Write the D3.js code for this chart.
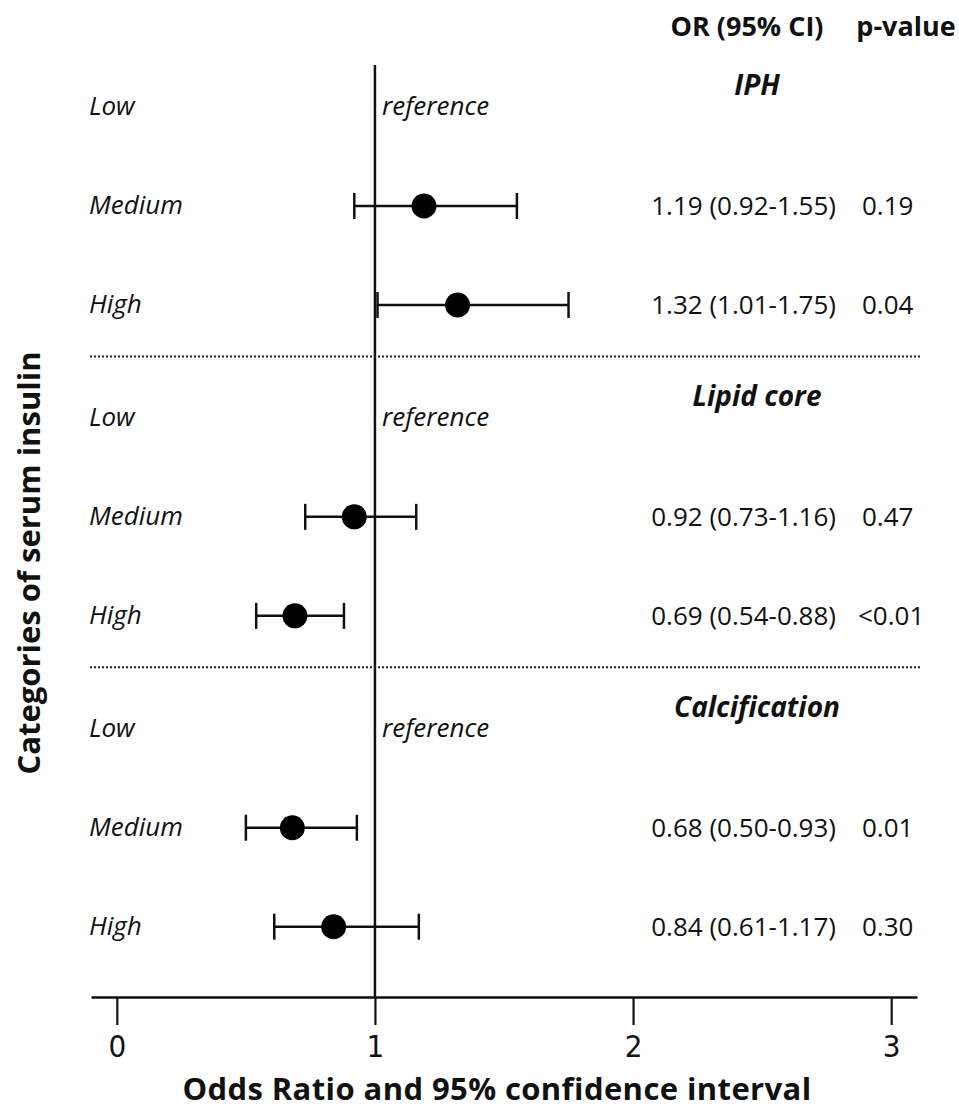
<!DOCTYPE html>
<html>
<head>
<meta charset="utf-8">
<script src="https://cdn.jsdelivr.net/npm/d3@7"></script>
<style>
  body { margin: 0; background: #fff; }
  text { fill: #111; }
</style>
</head>
<body>
<div id="container"></div>
<script>
let width = 959;
let height = 1108;

// data
let sections = ["IPH", "Lipid core", "Calcification"];
let levels = ["Low", "Medium", "High"];
let orValues = [
    [null, 1.19, 1.32],
    [null, 0.92, 0.69],
    [null, 0.68, 0.84]
];
let ciLow = [
    [null, 0.92, 1.01],
    [null, 0.73, 0.54],
    [null, 0.50, 0.61]
];
let ciHigh = [
    [null, 1.55, 1.75],
    [null, 1.16, 0.88],
    [null, 0.93, 1.17]
];
let pValues = [
    [null, "0.19", "0.04"],
    [null, "0.47", "<0.01"],
    [null, "0.01", "0.30"]
];
let xTicks = [0, 1, 2, 3];

let rows = [];
sections.forEach((s, si) => {
    levels.forEach((l, li) => {
        rows.push({
            section: si, level: l, slot: si * 3.14 + li,
            or: orValues[si][li], lo: ciLow[si][li], hi: ciHigh[si][li], p: pValues[si][li]
        });
    });
});

let svg = d3.select("#container")
    .append("svg")
    .attr("width", width)
    .attr("height", height);

let x = d3.scaleLinear().domain([-0.1, 3.1]).range([91, 917]);
let y = d3.scaleLinear().domain([0, 1]).range([107, 206]);

let axisY = 997;
let labelFont = "'Open Sans', sans-serif";

// axis
let axis = svg.append("g")
    .attr("transform", `translate(0,${axisY})`)
    .call(d3.axisBottom(x).tickValues(xTicks).tickFormat(d3.format("d"))
        .tickSize(28).tickSizeOuter(0).tickPadding(10));
axis.select(".domain").attr("stroke", "#111").attr("stroke-width", 2.5);
axis.selectAll(".tick line").attr("stroke", "#111").attr("stroke-width", 2.2);
axis.selectAll(".tick text")
    .attr("font-family", "'Liberation Sans Narrow', 'DejaVu Sans Condensed', sans-serif")
    .attr("font-size", 31)
    .attr("fill", "#111");

// reference line at OR = 1
svg.append("line")
    .attr("x1", x(1)).attr("x2", x(1))
    .attr("y1", 65).attr("y2", axisY)
    .attr("stroke", "#111")
    .attr("stroke-width", 2.5);

// dotted separators
svg.selectAll(".sep")
    .data(sections.slice(1))
    .enter()
    .append("line")
    .attr("x1", 90).attr("x2", 920)
    .attr("y1", (d, i) => y((i + 1) * 3.14 - 0.62))
    .attr("y2", (d, i) => y((i + 1) * 3.14 - 0.62))
    .attr("stroke", "#222")
    .attr("stroke-width", 2)
    .attr("stroke-dasharray", "2,2");

// section headers
svg.selectAll(".header")
    .data(sections)
    .enter()
    .append("text")
    .attr("x", 757)
    .attr("y", (d, i) => y(i * 3.14 - 0.12))
    .attr("text-anchor", "middle")
    .attr("font-family", labelFont)
    .attr("font-weight", "bold")
    .attr("font-style", "italic")
    .attr("font-size", 28)
    .text(d => d);

// column headers
svg.append("text")
    .attr("x", 747).attr("y", 36)
    .attr("text-anchor", "middle")
    .attr("font-family", labelFont)
    .attr("font-weight", "bold")
    .attr("font-size", 27)
    .text("OR (95% CI)");
svg.append("text")
    .attr("x", 906).attr("y", 36)
    .attr("text-anchor", "middle")
    .attr("font-family", labelFont)
    .attr("font-weight", "bold")
    .attr("font-size", 27)
    .text("p-value");

// row labels
svg.selectAll(".rowLabel")
    .data(rows)
    .enter()
    .append("text")
    .attr("x", 89)
    .attr("y", d => y(d.slot) + 8)
    .attr("font-family", labelFont)
    .attr("font-style", "italic")
    .attr("font-size", 26)
    .text(d => d.level);

let refRows = rows.filter(d => d.or == null);
let estRows = rows.filter(d => d.or != null);

svg.selectAll(".refText")
    .data(refRows)
    .enter()
    .append("text")
    .attr("x", x(1) + 7)
    .attr("y", d => y(d.slot) + 8)
    .attr("font-family", labelFont)
    .attr("font-style", "italic")
    .attr("font-size", 26)
    .text("reference");

// error bars
let bars = svg.selectAll(".bar")
    .data(estRows)
    .enter()
    .append("g")
    .attr("stroke", "#111")
    .attr("stroke-width", 2.5);
bars.append("line")
    .attr("x1", d => x(d.lo)).attr("x2", d => x(d.hi))
    .attr("y1", d => y(d.slot)).attr("y2", d => y(d.slot));
bars.append("line")
    .attr("x1", d => x(d.lo)).attr("x2", d => x(d.lo))
    .attr("y1", d => y(d.slot) - 13).attr("y2", d => y(d.slot) + 13);
bars.append("line")
    .attr("x1", d => x(d.hi)).attr("x2", d => x(d.hi))
    .attr("y1", d => y(d.slot) - 13).attr("y2", d => y(d.slot) + 13);

svg.selectAll(".dot")
    .data(estRows)
    .enter()
    .append("circle")
    .attr("cx", d => x(d.or))
    .attr("cy", d => y(d.slot))
    .attr("r", 12.5)
    .attr("fill", "#000");

// OR text and p-values
svg.selectAll(".orText")
    .data(estRows)
    .enter()
    .append("text")
    .attr("x", 836)
    .attr("y", d => y(d.slot) + 9)
    .attr("text-anchor", "end")
    .attr("font-family", labelFont)
    .attr("font-size", 26)
    .text(d => `${d.or.toFixed(2)} (${d.lo.toFixed(2)}-${d.hi.toFixed(2)})`);

svg.selectAll(".pText")
    .data(estRows)
    .enter()
    .append("text")
    .attr("x", d => d.p.startsWith("<") ? 858 : 862)
    .attr("y", d => y(d.slot) + 9)
    .attr("font-family", labelFont)
    .attr("font-size", 26)
    .text(d => d.p);

// axis titles
svg.append("text")
    .attr("x", 497).attr("y", 1100)
    .attr("text-anchor", "middle")
    .attr("font-family", labelFont)
    .attr("font-weight", "bold")
    .attr("font-size", 31)
    .attr("letter-spacing", 0.4)
    .text("Odds Ratio and 95% confidence interval");

svg.append("text")
    .attr("transform", "translate(40,563) rotate(-90)")
    .attr("text-anchor", "middle")
    .attr("font-family", labelFont)
    .attr("font-weight", "bold")
    .attr("font-size", 31)
    .text("Categories of serum insulin");
</script>
</body>
</html>
